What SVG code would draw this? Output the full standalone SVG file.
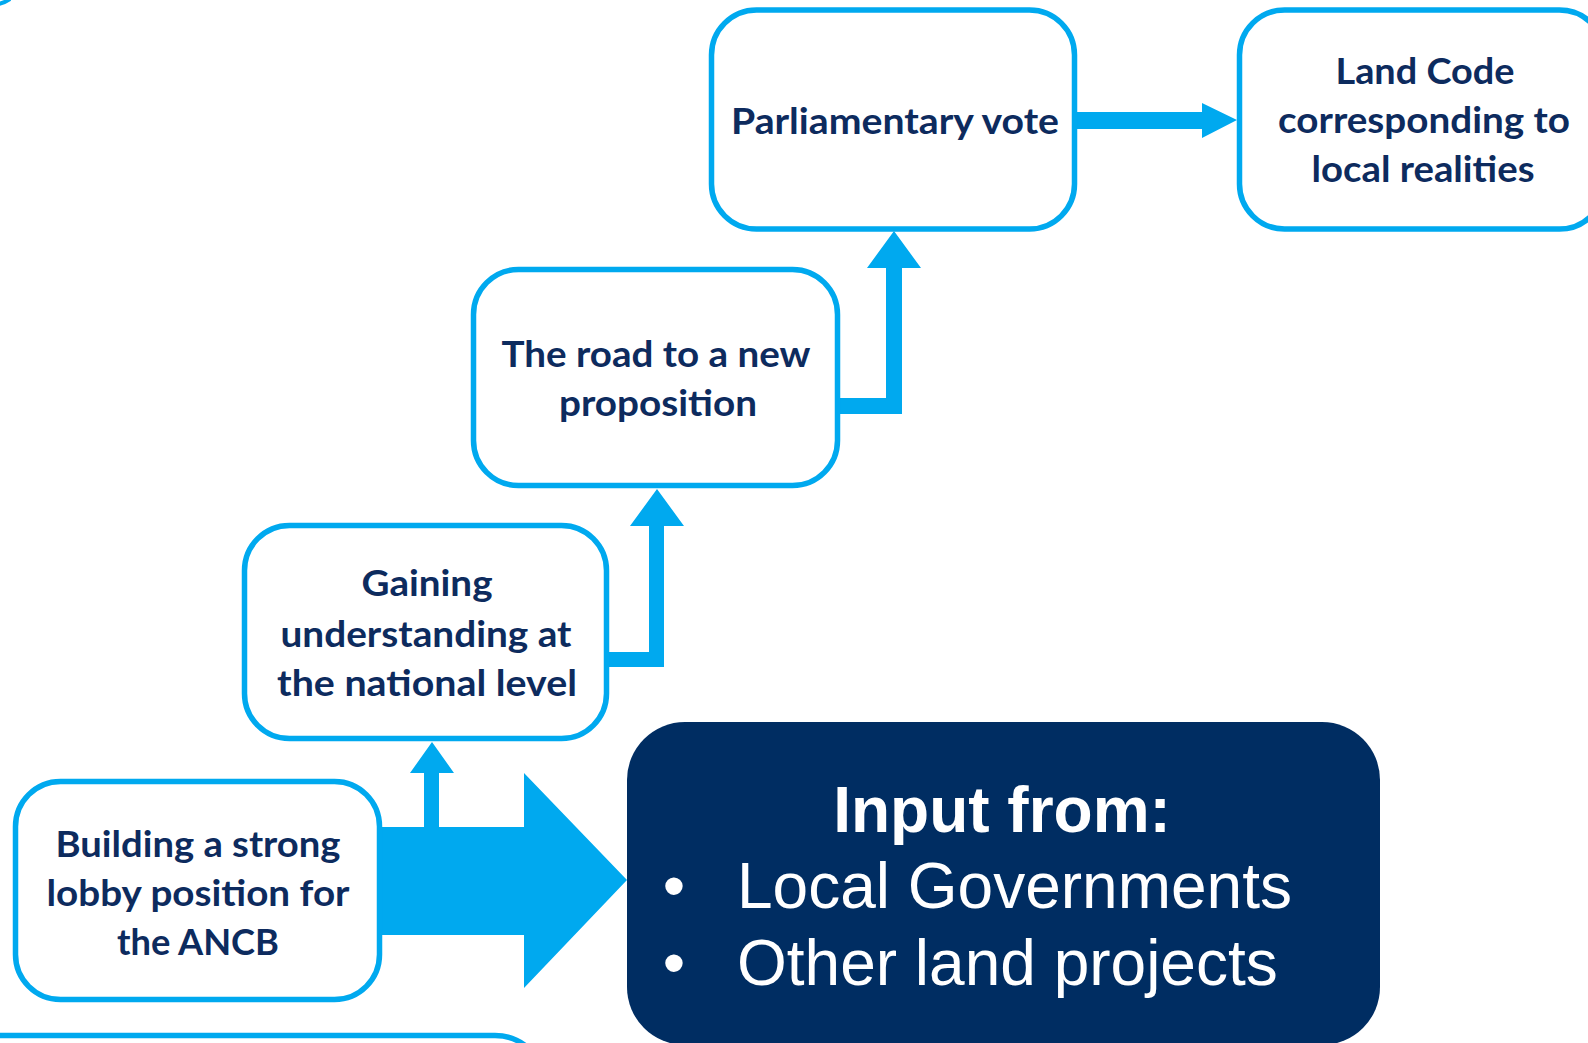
<svg xmlns="http://www.w3.org/2000/svg" width="1588" height="1043" viewBox="0 0 1588 1043">
<style>
.box{fill:#ffffff;stroke:#00A9EF;stroke-width:5.5}
.lbl{font-family:Lato,"Liberation Sans",sans-serif;font-weight:bold;font-size:37px;fill:#0D2B5E;text-anchor:middle}
.conn{fill:#00A9EF;stroke:none}
.inp{font-family:"Liberation Sans",Arial,sans-serif;fill:#ffffff;font-size:64px}
</style>
<rect width="1588" height="1043" fill="#ffffff"/>
<path d="M -2 4 Q 4 3 10 -1" fill="none" stroke="#00A9EF" stroke-width="4"/>
<g id="connectors">
<polygon class="conn" points="1077,112 1202,112 1202,103 1237,120 1202,138 1202,129 1077,129"/>
<polygon class="conn" points="838,398 886,398 886,268 867,268 894,231 921,268 902,268 902,414 838,414"/>
<polygon class="conn" points="607,652 649,652 649,526 630,526 657,489 684,526 664,526 664,667 607,667"/>
<polygon class="conn" points="424,830 424,773 410,773 432,742 454,773 439,773 439,830"/>
<polygon class="conn" points="380,827 524,827 524,773 627,880 524,988 524,935 380,935"/>
</g>
<g id="n-parliament">
<rect class="box" x="711.5" y="10" width="363" height="219" rx="45"/>
<text class="lbl" x="895" y="134" textLength="328" lengthAdjust="spacingAndGlyphs">Parliamentary vote</text>
</g>
<g id="n-landcode">
<rect class="box" x="1239.5" y="10" width="365" height="219" rx="45"/>
<text class="lbl" x="1425" y="84" textLength="179" lengthAdjust="spacingAndGlyphs">Land Code</text>
<text class="lbl" x="1424" y="133" textLength="292" lengthAdjust="spacingAndGlyphs">corresponding to</text>
<text class="lbl" x="1423" y="182" textLength="223" lengthAdjust="spacingAndGlyphs">local realities</text>
</g>
<g id="n-road">
<rect class="box" x="473.5" y="269.5" width="364" height="216" rx="45"/>
<text class="lbl" x="656" y="367" textLength="309" lengthAdjust="spacingAndGlyphs">The road to a new</text>
<text class="lbl" x="658" y="416" textLength="198" lengthAdjust="spacingAndGlyphs">proposition</text>
</g>
<g id="n-gaining">
<rect class="box" x="244.5" y="525.5" width="362" height="213" rx="45"/>
<text class="lbl" x="427" y="596" textLength="131" lengthAdjust="spacingAndGlyphs">Gaining</text>
<text class="lbl" x="426" y="647" textLength="291" lengthAdjust="spacingAndGlyphs">understanding at</text>
<text class="lbl" x="427" y="696" textLength="300" lengthAdjust="spacingAndGlyphs">the national level</text>
</g>
<g id="n-building">
<rect class="box" x="15.5" y="781.5" width="364" height="218" rx="45"/>
<text class="lbl" x="198" y="857" textLength="285" lengthAdjust="spacingAndGlyphs">Building a strong</text>
<text class="lbl" x="198" y="906" textLength="303" lengthAdjust="spacingAndGlyphs">lobby position for</text>
<text class="lbl" x="198" y="955" textLength="162" lengthAdjust="spacingAndGlyphs">the ANCB</text>
</g>
<g id="n-input">
<rect x="627" y="722" width="753" height="323" rx="58" fill="#002D62"/>
<text class="inp" x="1002" y="832" text-anchor="middle" font-weight="bold">Input from:</text>
<text class="inp" x="674" y="908" text-anchor="middle">•</text>
<text class="inp" x="737" y="908">Local Governments</text>
<text class="inp" x="674" y="985" text-anchor="middle">•</text>
<text class="inp" x="737" y="985">Other land projects</text>
</g>
<g id="n-bottom">
<rect class="box" x="-60" y="1035.5" width="605" height="200" rx="50"/>
</g>
</svg>
